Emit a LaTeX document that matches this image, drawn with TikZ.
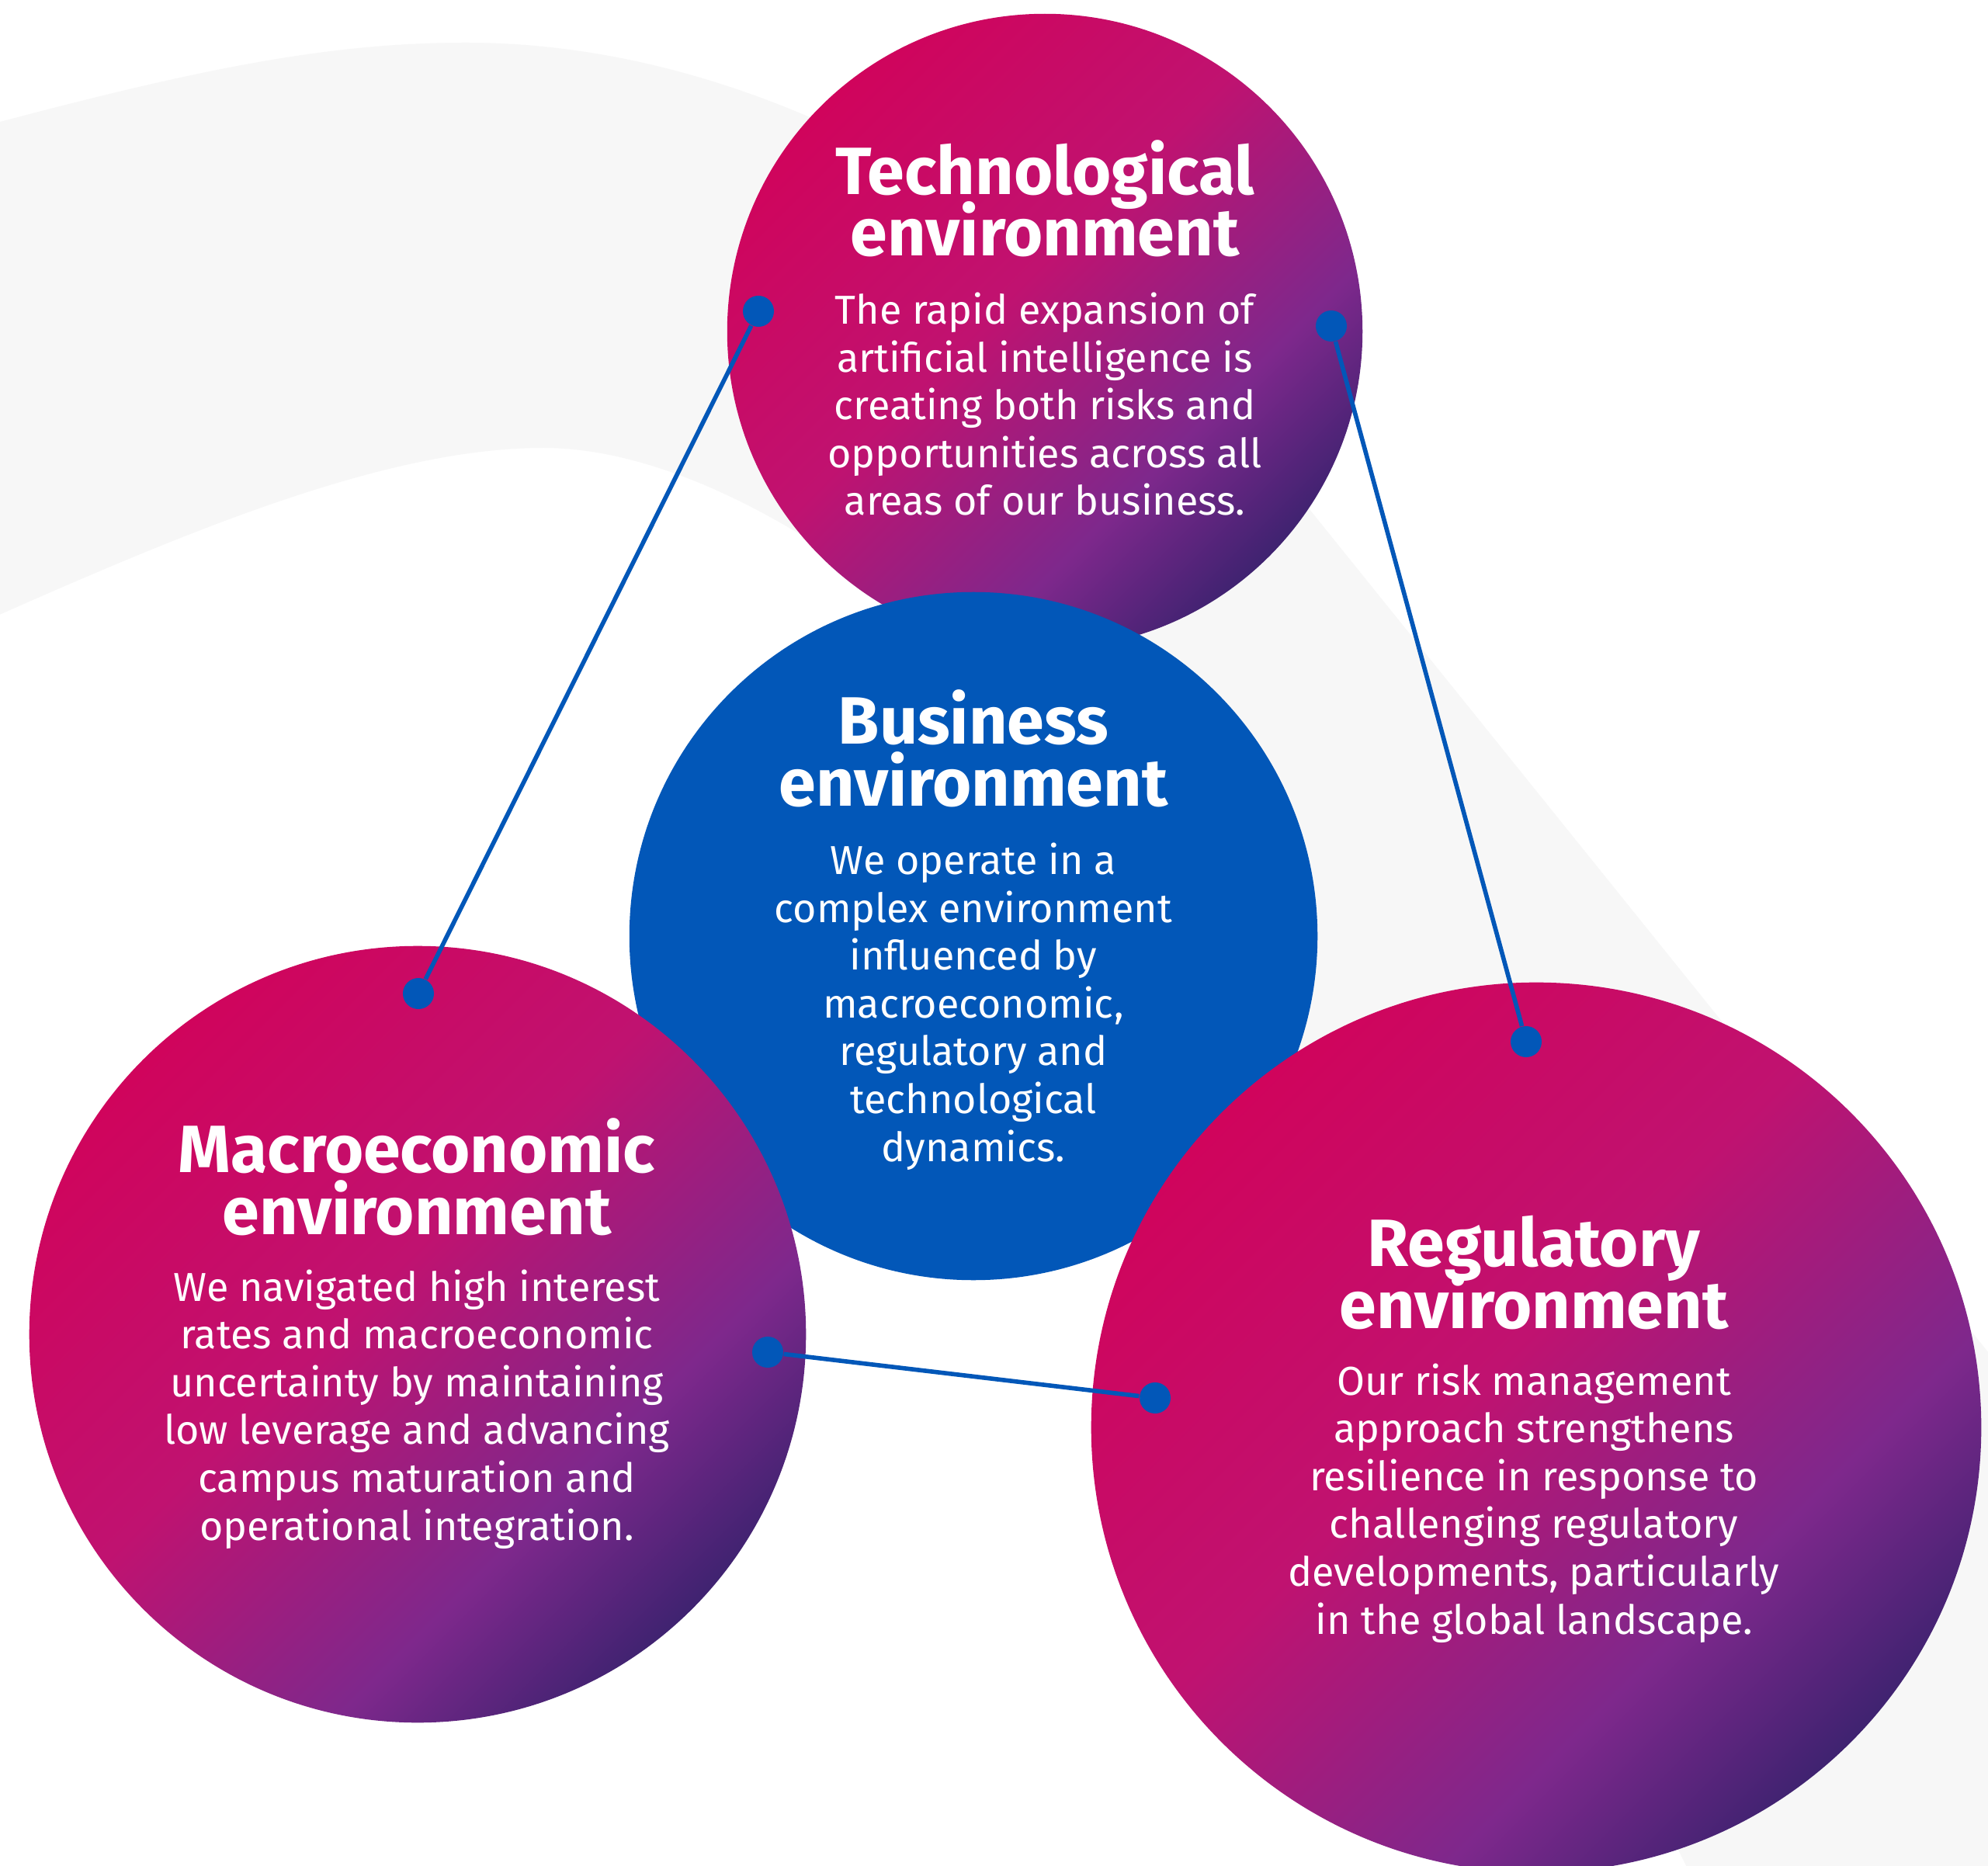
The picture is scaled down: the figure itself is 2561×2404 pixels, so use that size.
\documentclass[tikz,border=0pt]{standalone}
\usepackage{fontspec}
\setmainfont{Fira Sans}
\usetikzlibrary{positioning}
% tight leading in the headings, so no extra lineskip
\setlength{\lineskiplimit}{-100pt}
\definecolor{coreblue}{RGB}{2,87,184}
\definecolor{bandgray}{RGB}{247,247,247}
\definecolor{envpink}{RGB}{208,4,92}
\definecolor{envmagenta}{RGB}{192,18,112}
\definecolor{envpurple}{RGB}{126,40,140}
\definecolor{envnavy}{RGB}{58,34,110}
\pgfdeclarehorizontalshading{envgrad}{100bp}{color(0bp)=(envpink); color(25bp)=(envpink); color(46bp)=(envmagenta); color(64bp)=(envpurple); color(76bp)=(envnavy); color(100bp)=(envnavy)}
\tikzstyle{envball}=[circle,inner sep=0pt,shading=envgrad,shading angle=-45]
\tikzstyle{coreball}=[circle,inner sep=0pt,fill=coreblue]
\tikzstyle{linkdot}=[circle,fill=coreblue,minimum size=0.4cm,inner sep=0pt]
\tikzstyle{linkline}=[draw=coreblue,line width=1.6pt]
% base anchor sits on the last line
\tikzstyle{heading}=[text=white,align=center,anchor=base,inner sep=0pt,font=\bfseries\fontsize{24.5}{22.5}\selectfont]
\tikzstyle{blurb}=[text=white,align=center,anchor=base,inner sep=0pt,font=\fontsize{14.8}{17.5}\selectfont]

\begin{document}
\begin{tikzpicture}[x=0.01cm,y=-0.01cm]
\useasboundingbox (0, 0) rectangle (2561, 2404);
\clip (0, 0) rectangle (2561, 2404);
\fill[white] (0, 0) rectangle (2561, 2404);
% grey swoosh behind everything
\fill[bandgray] (-30, 165) .. controls (250, 90) and (420, 55) .. (600, 55)
  .. controls (1000, 55) and (1400, 300) .. (1690, 660) -- (2640, 1840)
  -- (2640, 2460) -- (2200, 2460) -- (1700, 1450)
  .. controls (1450, 950) and (1000, 577) .. (700, 577)
  .. controls (500, 577) and (250, 680) .. (-30, 805) -- cycle;
% the four circles
\draw (1346, 427) node [envball,minimum size=8.18cm] (tec) {};
\draw (1254, 1206) node [coreball,minimum size=8.86cm] (biz) {};
\draw (538, 1719) node [envball,minimum size=10cm] (mac) {};
\draw (1979, 1839) node [envball,minimum size=11.46cm] (reg) {};
% dots and links
\draw (977, 401) node [linkdot] (tecL) {};
\draw (1715, 420) node [linkdot] (tecR) {};
\draw (539, 1280) node [linkdot] (macT) {};
\draw (989, 1742) node [linkdot] (macR) {};
\draw (1966, 1342) node [linkdot] (regT) {};
\draw (1488, 1801) node [linkdot] (regL) {};
\draw[linkline] (tecL) -- (macT);
\draw[linkline] (tecR) -- (regT);
\draw[linkline] (macR) -- (regL);
% texts
\draw (1346, 330) node [heading] (tecH) {Technological\\environment};
\draw (1346, 664) node [blurb] (tecB) {The rapid expansion of\\artificial intelligence is\\creating both risks and\\opportunities across all\\areas of our business.};
\draw (1254, 1038) node [heading] (bizH) {Business\\environment};
\draw (1254, 1496) node [blurb] (bizB) {We operate in a\\complex environment\\influenced by\\macroeconomic,\\regulatory and\\technological\\dynamics.};
\draw (537, 1590) node [heading] (macH) {Macroeconomic\\environment};
\draw (537, 1984) node [blurb] (macB) {We navigated high interest\\rates and macroeconomic\\uncertainty by maintaining\\low leverage and advancing\\campus maturation and\\operational integration.};
\draw (1976, 1711) node [heading] (regH) {Regulatory\\environment};
\draw (1976, 2105) node [blurb] (regB) {Our risk management\\approach strengthens\\resilience in response to\\challenging regulatory\\developments, particularly\\in the global landscape.};
\end{tikzpicture}
\end{document}
